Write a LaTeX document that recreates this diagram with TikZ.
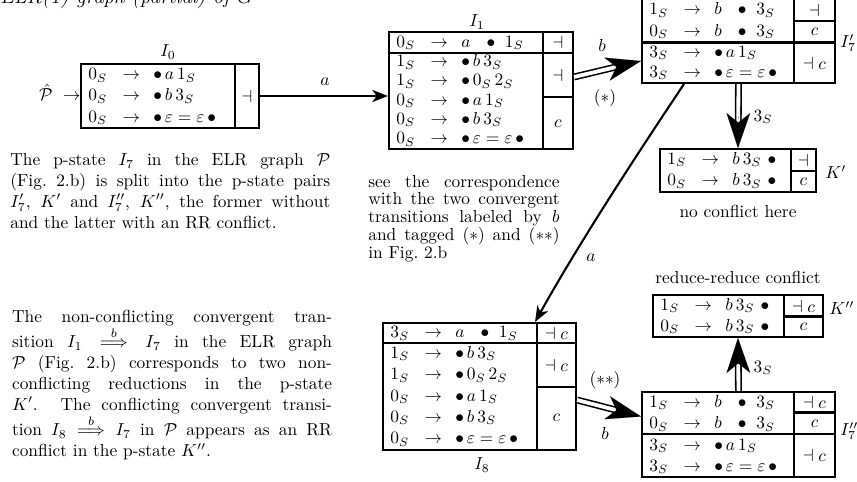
\documentclass[tikz,border=0pt]{standalone}
\usetikzlibrary{arrows.meta,fit,calc}
\newcommand\prodrow[2]{\makebox[14.7pt][l]{$#1$}\makebox[20pt]{$\rightarrow$}\hspace{2.7pt}$#2$}
\tikzset{
  box/.style={draw, line width=1.2pt, inner sep=0pt},
  sep/.style={line width=1.2pt},
  row/.style={anchor=base west, inner sep=0pt},
  sym/.style={inner sep=0pt},
  tag/.style={inner sep=0pt},
  edge/.style={line width=1.2pt, -{Stealth[length=9pt,width=7pt,inset=2.5pt]}},
  dshaft/.style={double, double distance=2.2pt, line width=0.9pt},
  dhead/.style={line width=0.01pt, -{Stealth[length=20pt,width=13.5pt,inset=5.5pt]}},
  para/.style={anchor=north west, inner sep=0pt, text width=184pt, align=justify},
}
\begin{document}
\begin{tikzpicture}[x=0.575pt,y=-0.575pt]
\useasboundingbox (0,0) rectangle (857,481);
\clip (0,0) rectangle (857,481);

% title
\node[tag, anchor=base west, font=\fontsize{12}{14}\selectfont\itshape] (title) at (0,3.5) {ELR(1) graph (partial) of $G$};

% ---------- I0 ----------
\node[box, fit={(81,64) (259,128)}] (I0) {};
\draw[sep] (235,64) -- (235,128);
\node[row] (I0r1) at (88,79.4) {\prodrow{0_S}{\bullet\,a\,1_S}};
\node[row] (I0r2) at (88,100.7) {\prodrow{0_S}{\bullet\,b\,3_S}};
\node[row] (I0r3) at (88,122) {\prodrow{0_S}{\bullet\,\varepsilon=\varepsilon\,\bullet}};
\node[sym] (I0s1) at (247,96) {$\dashv$};
\node[tag] (I0l) at (168,52) {$I_0$};
\node[tag, anchor=base east] (P) at (81,100.7) {$\hat{\mathcal P}\ \to$};

% ---------- I1 ----------
\node[box, fit={(389,32) (573,149)}] (I1) {};
\draw[sep] (543,32) -- (543,149);
\draw[sep] (389,53) -- (573,53);
\draw[sep] (543,97) -- (573,97);
\node[row] (I1r1) at (396,47) {\prodrow{0_S}{a\hspace{7pt}\bullet\ 1_S}};
\node[row] (I1r2) at (396,66.6) {\prodrow{1_S}{\bullet\,b\,3_S}};
\node[row] (I1r3) at (396,85.8) {\prodrow{1_S}{\bullet\,0_S\,2_S}};
\node[row] (I1r4) at (396,105) {\prodrow{0_S}{\bullet\,a\,1_S}};
\node[row] (I1r5) at (396,124.2) {\prodrow{0_S}{\bullet\,b\,3_S}};
\node[row] (I1r6) at (396,143.4) {\prodrow{0_S}{\bullet\,\varepsilon=\varepsilon\,\bullet}};
\node[sym] (I1s1) at (558,42.5) {$\dashv$};
\node[sym] (I1s2) at (558,75) {$\dashv$};
\node[sym] (I1s3) at (558,124) {$c$};
\node[tag] (I1l) at (477,22) {$I_1$};

% ---------- I7' ----------
\node[box, fit={(642,-1) (835,83)}] (I7a) {};
\draw[sep] (794,-1) -- (794,83);
\draw[sep] (642,42.5) -- (835,42.5);
\draw[sep] (794,20.7) -- (835,20.7);
\node[row] (I7ar1) at (649,14.5) {\prodrow{1_S}{b\hspace{7pt}\bullet\ 3_S}};
\node[row] (I7ar2) at (649,36.2) {\prodrow{0_S}{b\hspace{7pt}\bullet\ 3_S}};
\node[row] (I7ar3) at (649,57) {\prodrow{3_S}{\bullet\,a\,1_S}};
\node[row] (I7ar4) at (649,77.3) {\prodrow{3_S}{\bullet\,\varepsilon=\varepsilon\,\bullet}};
\node[sym] (I7as1) at (814.5,10) {$\dashv$};
\node[sym] (I7as2) at (814.5,31.5) {$c$};
\node[sym] (I7as3) at (814.5,63) {$\dashv c$};
\node[tag, anchor=west] (I7al) at (840,43) {$I'_7$};

% ---------- K' ----------
\node[box, fit={(660,149) (816,192)}] (Kp) {};
\draw[sep] (791,149) -- (791,192);
\draw[sep] (791,171) -- (816,171);
\node[row] (Kpr1) at (667,164.3) {\prodrow{1_S}{b\,3_S\hspace{3.5pt}\bullet}};
\node[row] (Kpr2) at (667,185.8) {\prodrow{0_S}{b\,3_S\hspace{3.5pt}\bullet}};
\node[sym] (Kps1) at (803.5,160) {$\dashv$};
\node[sym] (Kps2) at (803.5,181.5) {$c$};
\node[tag, anchor=west] (Kpl) at (825,172) {$K'$};
\node[tag] (nc) at (738,211) {no conflict here};

% ---------- K'' ----------
\node[tag] (rr) at (738,277) {reduce-reduce conflict};
\node[box, fit={(653,295) (823,337)}] (Kpp) {};
\draw[sep] (784,295) -- (784,337);
\draw[sep] (784,316.5) -- (823,316.5);
\node[row] (Kppr1) at (660,310) {\prodrow{1_S}{b\,3_S\hspace{3.5pt}\bullet}};
\node[row] (Kppr2) at (660,331.3) {\prodrow{0_S}{b\,3_S\hspace{3.5pt}\bullet}};
\node[sym] (Kpps1) at (803.5,306) {$\dashv c$};
\node[sym] (Kpps2) at (803.5,327) {$c$};
\node[tag, anchor=west] (Kppl) at (829,308) {$K''$};

% ---------- I7'' ----------
\node[box, fit={(642,392) (835,477)}] (I7b) {};
\draw[sep] (794,392) -- (794,477);
\draw[sep] (642,434) -- (835,434);
\draw[sep] (794,412.5) -- (835,412.5);
\node[row] (I7br1) at (649,407) {\prodrow{1_S}{b\hspace{7pt}\bullet\ 3_S}};
\node[row] (I7br2) at (649,428.5) {\prodrow{0_S}{b\hspace{7pt}\bullet\ 3_S}};
\node[row] (I7br3) at (649,450) {\prodrow{3_S}{\bullet\,a\,1_S}};
\node[row] (I7br4) at (649,471) {\prodrow{3_S}{\bullet\,\varepsilon=\varepsilon\,\bullet}};
\node[sym] (I7bs1) at (814.5,402.5) {$\dashv c$};
\node[sym] (I7bs2) at (814.5,423.5) {$c$};
\node[sym] (I7bs3) at (814.5,455.5) {$\dashv c$};
\node[tag, anchor=west] (I7bl) at (840,431) {$I''_7$};

% ---------- I8 ----------
\node[box, fit={(383,323) (576,450)}] (I8) {};
\draw[sep] (537,323) -- (537,450);
\draw[sep] (383,343.3) -- (576,343.3);
\draw[sep] (537,386.7) -- (576,386.7);
\node[row] (I8r1) at (390,337.5) {\prodrow{3_S}{a\hspace{7pt}\bullet\ 1_S}};
\node[row] (I8r2) at (390,358.3) {\prodrow{1_S}{\bullet\,b\,3_S}};
\node[row] (I8r3) at (390,379.6) {\prodrow{1_S}{\bullet\,0_S\,2_S}};
\node[row] (I8r4) at (390,401) {\prodrow{0_S}{\bullet\,a\,1_S}};
\node[row] (I8r5) at (390,422.3) {\prodrow{0_S}{\bullet\,b\,3_S}};
\node[row] (I8r6) at (390,443.7) {\prodrow{0_S}{\bullet\,\varepsilon=\varepsilon\,\bullet}};
\node[sym] (I8s1) at (556.5,333) {$\dashv c$};
\node[sym] (I8s2) at (556.5,365) {$\dashv c$};
\node[sym] (I8s3) at (556.5,418) {$c$};
\node[tag] (I8l) at (482,465) {$I_8$};

% ---------- connectors ----------
\draw[edge] (I0.east) -- (I1.west |- I0.east);
\node[tag] (la) at (325,82) {$a$};

\coordinate (d1s) at ($(I1.east)+(0,-13.5)$);
\coordinate (d1e) at ($(I7a.west)+(0,20)$);
\draw[dshaft, shorten >=11pt] (d1s) -- (d1e);
\draw[dhead] ($(d1s)!0.6!(d1e)$) -- (d1e);
\node[tag] (lb1) at (602,45) {$b$};
\node[tag] (ls1) at (605,98) {$(*)$};

\draw[dshaft, shorten >=11pt] (I7a.south) -- (Kp.north);
\draw[dhead] ($(I7a.south)!0.5!(Kp.north)$) -- (Kp.north);
\node[tag] (l3a) at (763,117) {$3_S$};

\draw[dshaft, shorten >=11pt] (I7b.north) -- (Kpp.south);
\draw[dhead] ($(I7b.north)!0.5!(Kpp.south)$) -- (Kpp.south);
\node[tag] (l3b) at (763,368) {$3_S$};

\coordinate (d2s) at ($(I8.east)+(0,13.5)$);
\coordinate (d2e) at ($(I7b.west)+(0,-18)$);
\draw[dshaft, shorten >=11pt] (d2s) -- (d2e);
\draw[dhead] ($(d2s)!0.6!(d2e)$) -- (d2e);
\node[tag] (ls2) at (605,380) {$(**)$};
\node[tag] (lb2) at (605,433) {$b$};

\draw[edge] ($(I7a.south west)+(43,0)$) .. controls (640,150) and (582,238) .. ($(I8.north east)+(-42,0)$);
\node[tag] (la2) at (591,258) {$a$};

% ---------- paragraphs ----------
\node[para] (p1) at (10,153) {The p-state $I_7$ in the ELR graph $\mathcal{P}$\linebreak
(Fig.~2.b) is split into the p-state pairs\linebreak
$I'_7$, $K'$ and $I''_7$, $K''$, the former without\linebreak
and the latter with an RR conflict.};

\node[para, text width=110pt] (p3) at (368,174.7) {\baselineskip=10.2pt
see the correspondence\linebreak
with the two convergent\linebreak
transitions labeled by $b$\linebreak
and tagged $(*)$ and $(**)$\linebreak
in Fig.~2.b\par};

\node[para] (p2) at (11.7,309.7) {The non-conflicting convergent tran-\linebreak
sition $I_1 \stackrel{b}{\Longrightarrow} I_7$ in the ELR graph\linebreak
$\mathcal{P}$ (Fig.~2.b) corresponds to two non-\linebreak
conflicting reductions in the p-state\linebreak
$K'$. The conflicting convergent transi-\linebreak
tion $I_8 \stackrel{b}{\Longrightarrow} I_7$ in $\mathcal{P}$ appears as an RR\linebreak
conflict in the p-state $K''$.};
\end{tikzpicture}
\end{document}
